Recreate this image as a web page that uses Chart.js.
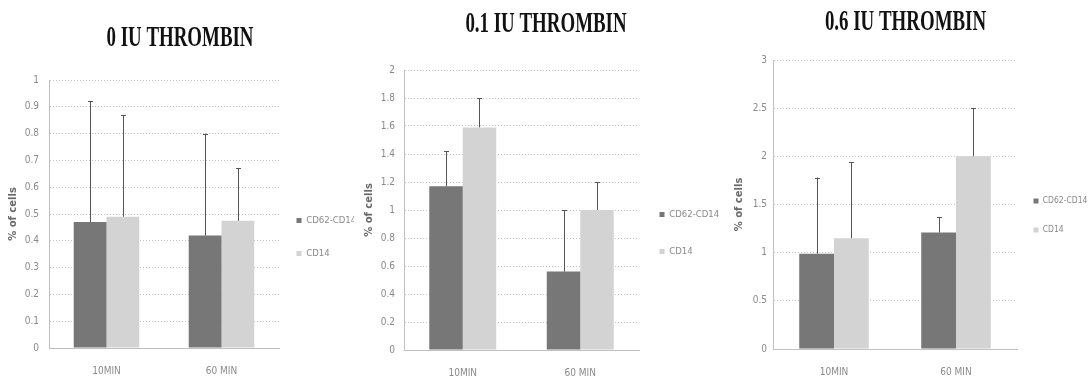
<!DOCTYPE html>
<html><head><meta charset="utf-8">
<script src="https://cdn.jsdelivr.net/npm/chart.js@4"></script>
<style>
html,body{margin:0;padding:0;background:#fff;}
#wrap{position:relative;width:1091px;height:389px;overflow:hidden;}
canvas{position:absolute;top:0;}
</style></head>
<body><div id="wrap">
<canvas id="c1" width="360" height="394" style="left:0px"></canvas>
<canvas id="c2" width="372" height="396" style="left:360px"></canvas>
<canvas id="c3" width="371" height="395" style="left:720px"></canvas>
</div>
<script>
// ---- data ----
const categories = ['10MIN', '60 MIN'];
const seriesNames = ['CD62-CD14', 'CD14'];
const titles = ['0 IU THROMBIN', '0.1 IU THROMBIN', '0.6 IU THROMBIN'];
const yAxisTitle = '% of cells';

// chart 1: 0 IU
const cd62_0 = [0.47, 0.42];
const cd62_0_err = [0.92, 0.80];
const cd14_0 = [0.49, 0.475];
const cd14_0_err = [0.87, 0.67];
// chart 2: 0.1 IU
const cd62_01 = [1.17, 0.56];
const cd62_01_err = [1.42, 1.00];
const cd14_01 = [1.59, 1.00];
const cd14_01_err = [1.80, 1.20];
// chart 3: 0.6 IU
const cd62_06 = [0.99, 1.21];
const cd62_06_err = [1.78, 1.37];
const cd14_06 = [1.15, 2.00];
const cd14_06_err = [1.94, 2.50];

const yMax = [1, 2, 3];
const yStep = [0.1, 0.2, 0.5];

const darkColor = '#777777';
const lightColor = '#d3d3d3';
const smallFont = 'Liberation Sans Narrow, DejaVu Sans Condensed, sans-serif';

// error bar plugin (uses the chart's own scales)
const errorBars = {
  id: 'errorBars',
  afterDatasetsDraw(chart) {
    const ctx = chart.ctx;
    const yScale = chart.scales.y;
    ctx.save();
    ctx.strokeStyle = '#555';
    ctx.lineWidth = 1;
    chart.data.datasets.forEach((ds, di) => {
      const meta = chart.getDatasetMeta(di);
      meta.data.forEach((bar, i) => {
        const top = yScale.getPixelForValue(ds.errUp[i]);
        const x = Math.round(bar.x) + 0.5;
        ctx.beginPath();
        ctx.moveTo(x, bar.y);
        ctx.lineTo(x, top);
        ctx.moveTo(x - 2.5, Math.round(top) + 0.5);
        ctx.lineTo(x + 2.5, Math.round(top) + 0.5);
        ctx.stroke();
      });
    });
    ctx.restore();
  }
};

// condensed title rendering + legend placement
const layoutTweaks = {
  id: 'layoutTweaks',
  afterLayout(chart, args, opts) {
    const tb = chart.titleBlock;
    if (tb && !tb._condensed) {
      const orig = tb.draw.bind(tb);
      tb.draw = function () {
        const ctx = chart.ctx;
        const cx = (tb.left + tb.right) / 2;
        ctx.save();
        ctx.translate(cx, 0);
        ctx.scale(0.63, 1);
        ctx.translate(-cx, 0);
        orig();
        ctx.restore();
      };
      tb._condensed = true;
    }
    const lg = chart.legend;
    if (lg) {
      lg.top += opts.legendShiftY || 0;
      lg.bottom += opts.legendShiftY || 0;
      lg.left += opts.legendShiftX || 0;
      lg.right += opts.legendShiftX || 0;
    }
  }
};

const fmt = v => String(Math.round(v * 100) / 100);

function makeChart(id, idx, v1, e1, v2, e2, cfg) {
  return new Chart(document.getElementById(id), {
    type: 'bar',
    data: {
      labels: categories,
      datasets: [
        { label: seriesNames[0], data: v1, errUp: e1, backgroundColor: darkColor, borderWidth: 0 },
        { label: seriesNames[1], data: v2, errUp: e2, backgroundColor: lightColor, borderWidth: 0 }
      ]
    },
    options: {
      responsive: false,
      animation: false,
      devicePixelRatio: 1,
      layout: { padding: { top: 0, left: 0, right: 0, bottom: 0 } },
      datasets: { bar: { categoryPercentage: 0.57, barPercentage: 1.0 } },
      plugins: {
        layoutTweaks: { legendShiftY: cfg.legendShiftY, legendShiftX: cfg.legendShiftX },
        title: {
          display: true, text: titles[idx], color: '#111',
          font: { family: 'Liberation Serif', size: 30, weight: 'bold', lineHeight: 1.2 },
          padding: { top: cfg.titleTop, bottom: cfg.titleBottom }
        },
        legend: {
          position: 'right',
          maxWidth: cfg.legendWidth,
          labels: {
            boxWidth: 5, boxHeight: 5, padding: cfg.legendPad, color: '#8a8a8a',
            font: { family: smallFont, size: cfg.legendFont }
          }
        },
        tooltip: { enabled: false }
      },
      scales: {
        x: {
          grid: { display: false, drawTicks: false },
          border: { display: true, color: '#c0c0c0', dash: [1, 2] },
          ticks: { color: '#8a8a8a', padding: 17, font: { family: smallFont, size: 10 } }
        },
        y: {
          min: 0, max: yMax[idx],
          afterFit(scale) { scale.width = cfg.yWidth; },
          ticks: { stepSize: yStep[idx], color: '#8a8a8a', padding: cfg.tickPad, callback: fmt,
            font: { family: smallFont, size: 10 } },
          grid: { color: '#c4c4c4', drawTicks: false },
          border: { display: true, color: '#c0c0c0', dash: [1, 2] },
          title: { display: true, text: yAxisTitle, color: '#6a6a6a', padding: { top: cfg.yTitlePad, bottom: 0 },
            font: { family: 'DejaVu Sans', size: 10, weight: 'bold' } }
        }
      }
    },
    plugins: [errorBars, layoutTweaks]
  });
}

Chart.defaults.scale.grid.borderDash = [1, 2];

makeChart('c1', 0, cd62_0, cd62_0_err, cd14_0, cd14_0_err,
  { legendWidth: 81, legendPad: 23.5, legendFont: 9.5, legendShiftY: 40, legendShiftX: -6,
    titleTop: 20, titleBottom: 24, yWidth: 49, tickPad: 10, yTitlePad: 7 });
makeChart('c2', 1, cd62_01, cd62_01_err, cd14_01, cd14_01_err,
  { legendWidth: 93, legendPad: 27.5, legendFont: 9.5, legendShiftY: 35, legendShiftX: -7,
    titleTop: 6, titleBottom: 28, yWidth: 44, tickPad: 9, yTitlePad: 3 });
makeChart('c3', 2, cd62_06, cd62_06_err, cd14_06, cd14_06_err,
  { legendWidth: 74, legendPad: 20.5, legendFont: 8.5, legendShiftY: 18, legendShiftX: -4,
    titleTop: 4, titleBottom: 20, yWidth: 53, tickPad: 6, yTitlePad: 13 });
</script>
</body></html>
